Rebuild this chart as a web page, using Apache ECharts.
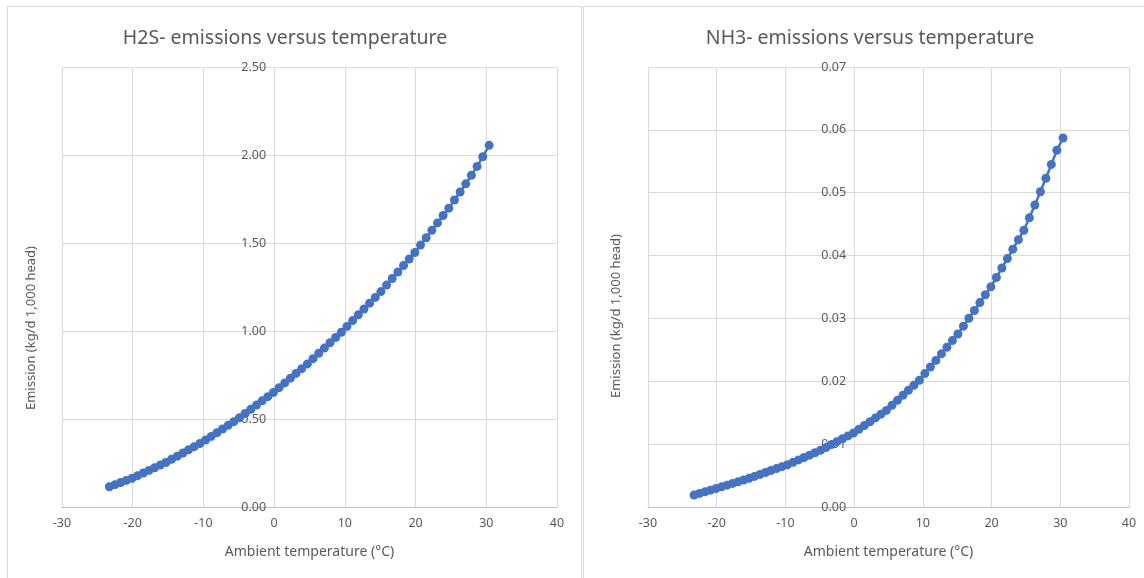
<!DOCTYPE html>
<html>
<head>
<meta charset="utf-8">
<script src="https://cdn.jsdelivr.net/npm/echarts@6/dist/echarts.min.js"></script>
<style>
  body { margin: 0; background: #fff; }
  .panel { position: absolute; border: 1px solid #d9d9d9; background: #fff; }
  #h2s { left: 7px; top: 6px; width: 573px; height: 580px; }
  #nh3 { left: 583px; top: 6px; width: 570px; height: 580px; }
</style>
</head>
<body>
<div id="h2s" class="panel"></div>
<div id="nh3" class="panel"></div>
<script>
// ambient temperature (°C), same points for both charts
var temps = [
  -23.3, -22.5, -21.7, -20.9, -20.1, -19.3, -18.5, -17.7, -16.9, -16.1,
  -15.3, -14.5, -13.7, -12.9, -12.1, -11.3, -10.5, -9.7, -8.9, -8.1,
  -7.3, -6.5, -5.7, -4.9, -4.1, -3.3, -2.5, -1.7, -0.9, -0.1,
  0.7, 1.5, 2.3, 3.1, 3.9, 4.7, 5.5, 6.3, 7.1, 7.9,
  8.7, 9.5, 10.3, 11.1, 11.9, 12.7, 13.5, 14.3, 15.1, 15.9,
  16.7, 17.5, 18.3, 19.1, 19.9, 20.7, 21.5, 22.3, 23.1, 23.9,
  24.7, 25.5, 26.3, 27.1, 27.9, 28.7, 29.5, 30.4
];
// H2S emission (kg/d 1,000 head)
var h2s = [
  0.115, 0.127, 0.139, 0.151, 0.163, 0.178, 0.193, 0.208, 0.223, 0.238,
  0.253, 0.271, 0.289, 0.307, 0.325, 0.343, 0.361, 0.380, 0.401, 0.422,
  0.443, 0.464, 0.485, 0.507, 0.531, 0.555, 0.579, 0.603, 0.627, 0.651,
  0.678, 0.705, 0.732, 0.759, 0.786, 0.813, 0.843, 0.873, 0.903, 0.933,
  0.963, 0.993, 1.026, 1.059, 1.092, 1.125, 1.158, 1.191, 1.224, 1.261,
  1.298, 1.335, 1.372, 1.409, 1.446, 1.488, 1.530, 1.572, 1.614, 1.656,
  1.698, 1.744, 1.790, 1.836, 1.885, 1.935, 1.990, 2.055
];
// NH3 emission (kg/d 1,000 head)
var nh3 = [
  0.00190, 0.00216, 0.00242, 0.00268, 0.00294, 0.00321, 0.00348, 0.00375, 0.00402, 0.00429,
  0.00456, 0.00487, 0.00518, 0.00549, 0.00580, 0.00611, 0.00642, 0.00673, 0.00711, 0.00749,
  0.00787, 0.00825, 0.00863, 0.00901, 0.00947, 0.00993, 0.01039, 0.01085, 0.01131, 0.01177,
  0.01237, 0.01297, 0.01357, 0.01417, 0.01477, 0.01537, 0.01617, 0.01697, 0.01777, 0.01857,
  0.01937, 0.02017, 0.02122, 0.02227, 0.02332, 0.02437, 0.02542, 0.02647, 0.02752, 0.02877,
  0.03002, 0.03127, 0.03252, 0.03377, 0.03502, 0.03652, 0.03802, 0.03952, 0.04102, 0.04252,
  0.04402, 0.04600, 0.04805, 0.05015, 0.05230, 0.05450, 0.05675, 0.05870
];

var xMin = -30, xMax = 40;
var font = "'Noto Sans', sans-serif";
var grey = '#595959';

function buildOption(cfg) {
  var data = temps.map(function (t, i) { return [t, cfg.values[i]]; });
  // the value axis crosses at x = 0, as in Excel: shift it in from the left edge
  var zeroShift = cfg.gridWidth * (0 - xMin) / (xMax - xMin);
  return {
    animation: false,
    textStyle: { fontFamily: font },
    title: {
      text: cfg.title,
      left: cfg.titleX,
      top: 21,
      padding: 0,
      textAlign: 'center',
      textStyle: { fontSize: 19.5, fontWeight: 'normal', color: grey, fontFamily: font }
    },
    grid: { left: cfg.gridLeft, top: 60, width: cfg.gridWidth, height: 440, containLabel: false },
    xAxis: {
      type: 'value',
      min: xMin, max: xMax, interval: 10,
      name: 'Ambient temperature (°C)',
      nameLocation: 'middle',
      nameGap: 38,
      nameTextStyle: { fontSize: 14, color: grey },
      axisLine: { show: true, lineStyle: { color: '#bfbfbf' } },
      axisTick: { show: false },
      axisLabel: { fontSize: 12.5, color: grey, margin: 10 },
      splitLine: { show: true, lineStyle: { color: '#d9d9d9' } }
    },
    yAxis: {
      type: 'value',
      min: 0, max: cfg.yMax, interval: cfg.yStep,
      offset: -zeroShift,
      axisLine: { show: false },
      axisTick: { show: false },
      axisLabel: {
        fontSize: 12.5, color: grey, margin: 8,
        formatter: function (v) { return v.toFixed(2); }
      },
      splitLine: { show: true, lineStyle: { color: '#d9d9d9' } }
    },
    graphic: [{
      type: 'text',
      x: cfg.nameX, y: cfg.nameY,
      rotation: Math.PI / 2,
      style: {
        text: 'Emission (kg/d 1,000 head)',
        fill: grey, font: '13px ' + font,
        textAlign: 'center', textVerticalAlign: 'middle'
      }
    }],
    series: [{
      type: 'line',
      data: data,
      symbol: 'circle',
      symbolSize: 9,
      showSymbol: true,
      color: '#4472C4',
      lineStyle: { width: 2.5, color: '#4472C4' },
      itemStyle: { color: '#4472C4' },
      z: 5
    }]
  };
}

var left = echarts.init(document.getElementById('h2s'));
left.setOption(buildOption({
  title: 'H2S- emissions versus temperature',
  titleX: 277, gridLeft: 54, gridWidth: 495,
  yMax: 2.5, yStep: 0.5, values: h2s,
  nameX: 23, nameY: 321
}));

var right = echarts.init(document.getElementById('nh3'));
right.setOption(buildOption({
  title: 'NH3- emissions versus temperature',
  titleX: 286, gridLeft: 64, gridWidth: 481,
  yMax: 0.07, yStep: 0.01, values: nh3,
  nameX: 32, nameY: 309
}));
</script>
</body>
</html>
